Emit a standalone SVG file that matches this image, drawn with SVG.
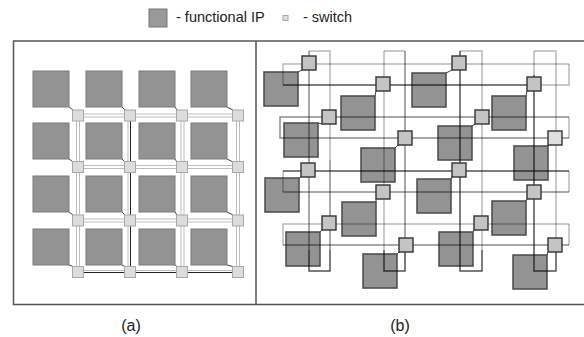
<svg xmlns="http://www.w3.org/2000/svg" width="584" height="337" viewBox="0 0 584 337">
<style>
text{font-family:"Liberation Sans",Arial,sans-serif;fill:#222}
.ipa{fill:#939393;stroke:#7a7a7a;stroke-width:1}
.swa{fill:#dcdcdc;stroke:#a8a8a8;stroke-width:1}
.ipb{fill:#939393;stroke:#4a4a4a;stroke-width:1.5}
.swb{fill:#c4c4c4;stroke:#333;stroke-width:1.4}
.swl{fill:#dedede}
.lk{fill:none;stroke:#bdbdbd;stroke-width:1}
.dk{fill:none;stroke:#222;stroke-width:1}
.dg{fill:none;stroke:#444;stroke-width:1}
.l1{fill:none;stroke:#000;stroke-opacity:.28;stroke-width:1.5}
.l2{fill:none;stroke:#000;stroke-opacity:.45;stroke-width:1.5}
.l3{fill:none;stroke:#000;stroke-opacity:.68;stroke-width:1.5}
</style>
<!-- legend -->
<g id="legend">
<rect x="149" y="9" width="18" height="18" fill="#999" stroke="#777"/>
<text x="176" y="22" font-size="14.5">- functional IP</text>
<rect x="283" y="15.5" width="5" height="5" fill="#ddd" stroke="#aaa"/>
<text x="303" y="22" font-size="14.5">- switch</text>
</g>
<!-- frame -->
<g id="frame" fill="none" stroke="#555" stroke-width="1.5">
<path d="M590,41 H13.5 V304.5 H590"/>
<path d="M256,41 V304.5"/>
</g>
<!-- (a) connectors -->
<g id="connectors-a">
<!-- row links double -->
<path class="lk" d="M78,114 H238 M78,117 H238 M78,165.5 H238 M78,168.5 H238 M78,219 H238 M78,222 H238 M78,270.5 H238"/>
<path class="dk" d="M78,272.5 H238"/>
<!-- column links -->
<path class="lk" d="M76.5,115.5 V272 M79.5,115.5 V272 M128,115.5 V272 M181,115.5 V272 M184,115.5 V272 M236.5,115.5 V272 M239.5,115.5 V272"/>
<path class="dk" d="M130.5,115.5 V272"/>
<!-- IP-switch diagonals -->
<path class="dg" d="M69,107 L73,110 M122,107 L125,110 M175,107 L177,110 M227,107 L233,110
M69,159 L73,162 M122,159 L125,162 M175,159 L177,162 M227,159 L233,162
M69,212 L73,215 M122,212 L125,215 M175,212 L177,215 M227,212 L233,215
M69,265 L73,266.5 M122,265 L125,266.5 M175,265 L177,266.5 M227,265 L233,266.5"/>
</g>
<!-- (a) IP nodes -->
<g id="a-ip-11"><rect class="ipa" x="33" y="71" width="36" height="36"/></g>
<g id="a-ip-12"><rect class="ipa" x="86" y="71" width="36" height="36"/></g>
<g id="a-ip-13"><rect class="ipa" x="139" y="71" width="36" height="36"/></g>
<g id="a-ip-14"><rect class="ipa" x="191" y="71" width="36" height="36"/></g>
<g id="a-ip-21"><rect class="ipa" x="33" y="123" width="36" height="36"/></g>
<g id="a-ip-22"><rect class="ipa" x="86" y="123" width="36" height="36"/></g>
<g id="a-ip-23"><rect class="ipa" x="139" y="123" width="36" height="36"/></g>
<g id="a-ip-24"><rect class="ipa" x="191" y="123" width="36" height="36"/></g>
<g id="a-ip-31"><rect class="ipa" x="33" y="176" width="36" height="36"/></g>
<g id="a-ip-32"><rect class="ipa" x="86" y="176" width="36" height="36"/></g>
<g id="a-ip-33"><rect class="ipa" x="139" y="176" width="36" height="36"/></g>
<g id="a-ip-34"><rect class="ipa" x="191" y="176" width="36" height="36"/></g>
<g id="a-ip-41"><rect class="ipa" x="33" y="229" width="36" height="36"/></g>
<g id="a-ip-42"><rect class="ipa" x="86" y="229" width="36" height="36"/></g>
<g id="a-ip-43"><rect class="ipa" x="139" y="229" width="36" height="36"/></g>
<g id="a-ip-44"><rect class="ipa" x="191" y="229" width="36" height="36"/></g>
<!-- (a) switch nodes -->
<g id="a-sw-11"><rect class="swa" x="72.5" y="110" width="11" height="11"/></g>
<g id="a-sw-12"><rect class="swa" x="124.5" y="110" width="11" height="11"/></g>
<g id="a-sw-13"><rect class="swa" x="176.5" y="110" width="11" height="11"/></g>
<g id="a-sw-14"><rect class="swa" x="232.5" y="110" width="11" height="11"/></g>
<g id="a-sw-21"><rect class="swa" x="72.5" y="161.5" width="11" height="11"/></g>
<g id="a-sw-22"><rect class="swa" x="124.5" y="161.5" width="11" height="11"/></g>
<g id="a-sw-23"><rect class="swa" x="176.5" y="161.5" width="11" height="11"/></g>
<g id="a-sw-24"><rect class="swa" x="232.5" y="161.5" width="11" height="11"/></g>
<g id="a-sw-31"><rect class="swa" x="72.5" y="215" width="11" height="11"/></g>
<g id="a-sw-32"><rect class="swa" x="124.5" y="215" width="11" height="11"/></g>
<g id="a-sw-33"><rect class="swa" x="176.5" y="215" width="11" height="11"/></g>
<g id="a-sw-34"><rect class="swa" x="232.5" y="215" width="11" height="11"/></g>
<g id="a-sw-41"><rect class="swa" x="72.5" y="266.5" width="11" height="11"/></g>
<g id="a-sw-42"><rect class="swa" x="124.5" y="266.5" width="11" height="11"/></g>
<g id="a-sw-43"><rect class="swa" x="176.5" y="266.5" width="11" height="11"/></g>
<g id="a-sw-44"><rect class="swa" x="232.5" y="266.5" width="11" height="11"/></g>
<!-- (b) IP nodes -->
<g id="b-ip-1"><rect class="ipb" x="264" y="72" width="34" height="34"/></g>
<g id="b-ip-2"><rect class="ipb" x="341" y="96" width="34" height="34"/></g>
<g id="b-ip-3"><rect class="ipb" x="284" y="123" width="34" height="34"/></g>
<g id="b-ip-4"><rect class="ipb" x="361" y="148" width="34" height="34"/></g>
<g id="b-ip-5"><rect class="ipb" x="265" y="178" width="34" height="34"/></g>
<g id="b-ip-6"><rect class="ipb" x="342" y="202" width="34" height="34"/></g>
<g id="b-ip-7"><rect class="ipb" x="286" y="232" width="34" height="34"/></g>
<g id="b-ip-8"><rect class="ipb" x="363" y="254" width="34" height="34"/></g>
<g id="b-ip-9"><rect class="ipb" x="412" y="73" width="34" height="34"/></g>
<g id="b-ip-10"><rect class="ipb" x="492" y="96" width="34" height="34"/></g>
<g id="b-ip-11"><rect class="ipb" x="438" y="126" width="34" height="34"/></g>
<g id="b-ip-12"><rect class="ipb" x="514" y="146" width="34" height="34"/></g>
<g id="b-ip-13"><rect class="ipb" x="417" y="179" width="34" height="34"/></g>
<g id="b-ip-14"><rect class="ipb" x="492" y="201" width="34" height="34"/></g>
<g id="b-ip-15"><rect class="ipb" x="439" y="232" width="34" height="34"/></g>
<g id="b-ip-16"><rect class="ipb" x="513" y="255" width="34" height="34"/></g>
<!-- (b) connectors -->
<g id="connectors-b">
<!-- horizontal ring loops -->
<path class="l1" d="M569,64 H283 V85"/>
<path class="l3" d="M283,85 H534"/>
<path class="l1" d="M534,85 H569 V64"/>
<path class="l2" d="M569,117 H280 V138 H569"/>
<path class="l1" d="M569,117 V138"/>
<path class="l3" d="M569,171 H283"/>
<path class="l1" d="M283,171 V192 M569,171 V192"/>
<path class="l2" d="M283,192 H569"/>
<path class="l1" d="M569,224 H283 V245"/>
<path class="l2" d="M283,245 H569"/>
<path class="l1" d="M569,224 V245"/>
<!-- vertical ring loops -->
<path class="l2" d="M309,51 V250"/>
<path class="l3" d="M309,250 V271 H330 V250"/>
<path class="l1" d="M309,51 H330 V160"/>
<path class="l2" d="M330,160 V250"/>
<path class="l1" d="M384,51 V250"/>
<path class="l3" d="M384,250 V271 H405 V250"/>
<path class="l1" d="M384,51 H405"/>
<path class="l2" d="M405,51 V250"/>
<path class="l1" d="M460,51 H482 V250"/>
<path class="l3" d="M460,51 V271 H482 V250"/>
<path class="l1" d="M534,51 H556 V250 M534,51 V75"/>
<path class="l3" d="M534,75 V271 H556 V250"/>
<!-- IP-switch diagonals -->
<path class="dg" d="M302,70 L298,72 M376,91 L375,96 M322,124 L318,123 M398,145 L395,148 M301,177 L299,178 M376,199 L376,202 M322,230 L320,232 M399,252 L397,254 M452,70 L446,73 M527,91 L526,96 M475,124 L472,126 M548,145 L548,146 M452,177 L451,179 M527,199 L526,201 M474,230 L473,232 M548,252 L547,255"/>
</g>
<!-- (b) switch nodes -->
<g id="b-sw-1"><rect class="swb" x="302" y="56" width="14" height="14"/></g>
<g id="b-sw-2"><rect class="swb" x="376" y="77" width="14" height="14"/></g>
<g id="b-sw-3"><rect class="swb" x="322" y="110" width="14" height="14"/></g>
<g id="b-sw-4"><rect class="swb" x="398" y="131" width="14" height="14"/></g>
<g id="b-sw-5"><rect class="swb" x="301" y="163" width="14" height="14"/></g>
<g id="b-sw-6"><rect class="swb" x="376" y="185" width="14" height="14"/></g>
<g id="b-sw-7"><rect class="swb" x="322" y="216" width="14" height="14"/></g>
<g id="b-sw-8"><rect class="swb" x="399" y="238" width="14" height="14"/></g>
<g id="b-sw-9"><rect class="swb" x="452" y="56" width="14" height="14"/></g>
<g id="b-sw-10"><rect class="swb" x="527" y="77" width="14" height="14"/></g>
<g id="b-sw-11"><rect class="swb" x="475" y="110" width="14" height="14"/></g>
<g id="b-sw-12"><rect class="swb swl" x="548" y="131" width="14" height="14"/></g>
<g id="b-sw-13"><rect class="swb" x="452" y="163" width="14" height="14"/></g>
<g id="b-sw-14"><rect class="swb" x="527" y="185" width="14" height="14"/></g>
<g id="b-sw-15"><rect class="swb" x="474" y="216" width="14" height="14"/></g>
<g id="b-sw-16"><rect class="swb" x="548" y="238" width="14" height="14"/></g>
<!-- captions -->
<text x="131" y="331" font-size="16" text-anchor="middle">(a)</text>
<text x="400" y="331" font-size="16" text-anchor="middle">(b)</text>
</svg>
